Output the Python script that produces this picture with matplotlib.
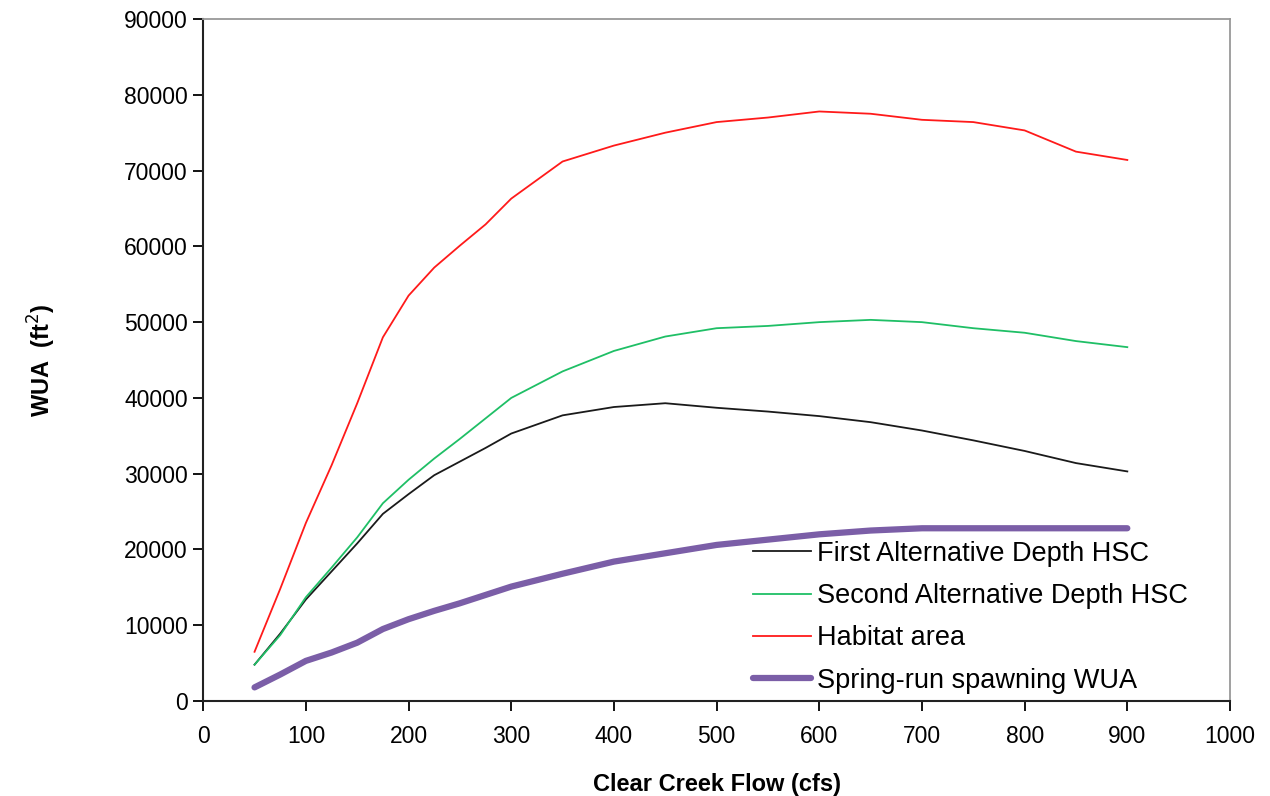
import matplotlib.pyplot as plt

plt.rcParams['font.family'] = ['Liberation Sans', 'DejaVu Sans']

# flow values (cfs)
flow = [50, 75, 100, 125, 150, 175, 200, 225, 250, 275, 300, 350, 400, 450,
        500, 550, 600, 650, 700, 750, 800, 850, 900]

first_alt = [4800, 8900, 13400, 17100, 20800, 24700, 27300, 29800, 31600, 33400,
             35300, 37700, 38800, 39300, 38700, 38200, 37600, 36800, 35700, 34400,
             33000, 31400, 30300]
second_alt = [4800, 8700, 13700, 17600, 21600, 26100, 29200, 32000, 34600, 37300,
              40000, 43500, 46200, 48100, 49200, 49500, 50000, 50300, 50000, 49200,
              48600, 47500, 46700]
habitat = [6500, 14800, 23500, 31100, 39300, 48000, 53500, 57200, 60100, 62900,
           66300, 71200, 73300, 75000, 76400, 77000, 77800, 77500, 76700, 76400,
           75300, 72500, 71400]
spring_run = [1800, 3500, 5300, 6400, 7700, 9500, 10800, 11900, 12900, 14000,
              15100, 16800, 18400, 19500, 20600, 21300, 22000, 22500, 22800, 22800,
              22800, 22800, 22800]

labels = ['First Alternative Depth HSC', 'Second Alternative Depth HSC',
          'Habitat area', 'Spring-run spawning WUA']

fig = plt.figure(figsize=(12.7, 7.96), dpi=100)
ax = fig.add_axes([0.160, 0.1193, 0.8085, 0.8568])

ax.plot(flow, first_alt, color='#1a1a1a', lw=1.3, label=labels[0])
ax.plot(flow, second_alt, color='#1fbf66', lw=1.3, label=labels[1])
ax.plot(flow, habitat, color='#ff1a1a', lw=1.3, label=labels[2])
ax.plot(flow, spring_run, color='#7b5ea7', lw=4.5, solid_capstyle='round', label=labels[3])

ax.set_xlim(0, 1000)
ax.set_ylim(0, 90000)
ax.set_xticks(range(0, 1001, 100))
ax.set_yticks(range(0, 90001, 10000))
ax.tick_params(direction='out', length=7, width=1.3, labelsize=16.5)
ax.tick_params(axis='x', pad=10)
ax.tick_params(axis='y', pad=4)

for s in ['left', 'bottom']:
    ax.spines[s].set_color('#222222')
    ax.spines[s].set_linewidth(1.5)
for s in ['top', 'right']:
    ax.spines[s].set_color('#999999')
    ax.spines[s].set_linewidth(1.3)

ax.set_xlabel('Clear Creek Flow (cfs)', fontsize=17, fontweight='bold', labelpad=18)
ax.set_ylabel('WUA  (ft$^2$)', fontsize=17, fontweight='bold', labelpad=48)

ax.legend(loc='lower left', bbox_to_anchor=(0.525, -0.005), frameon=False,
          fontsize=19.5, handlelength=2.15, handletextpad=0.2, labelspacing=0.6,
          borderaxespad=0)

fig.savefig('out.png', dpi=100)
